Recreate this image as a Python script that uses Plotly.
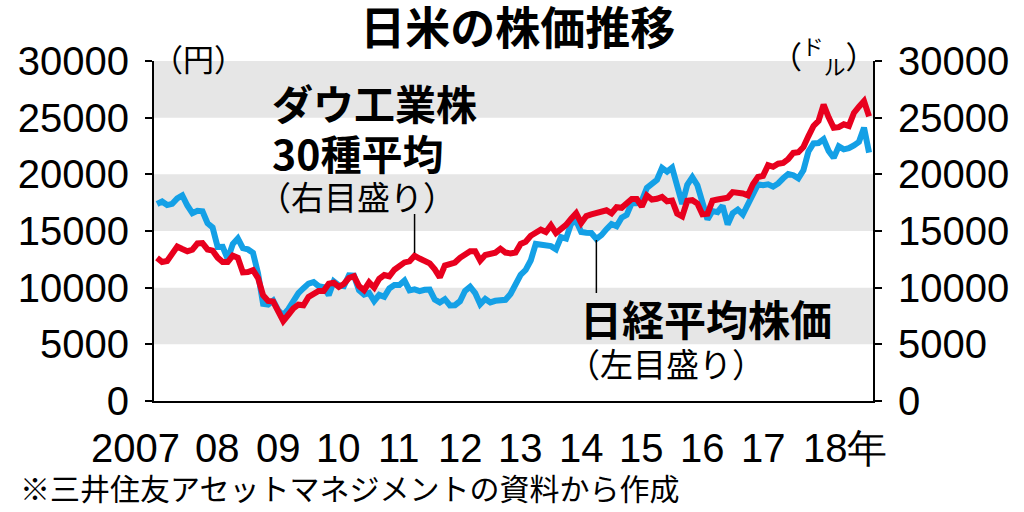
import plotly.graph_objects as go

# ---------------- data (monthly closes, Jan 2007 - Oct 2018) ----------------
start_year = 2007
nikkei = [
    17383, 17604, 17288, 17400, 17875, 18138, 17248, 16569, 16785, 16737, 15680, 15307,  # 2007
    13592, 13603, 12525, 13849, 14338, 13481, 13376, 13072, 11259, 8576, 8512, 8859,     # 2008
    7994, 7568, 8109, 8828, 9522, 9958, 10356, 10492, 10133, 10034, 9345, 10546,         # 2009
    10198, 10126, 11089, 11057, 9768, 9382, 9537, 8824, 9369, 9202, 9937, 10228,         # 2010
    10237, 10624, 9755, 9849, 9693, 9816, 9833, 8955, 8700, 8988, 8434, 8455,            # 2011
    8802, 9723, 10083, 9520, 8542, 9006, 8695, 8839, 8870, 8928, 9446, 10395,            # 2012
    11138, 11559, 12397, 13860, 13774, 13677, 13668, 13389, 14455, 14327, 15662, 15900,  # 2013
    14914, 14841, 14828, 14304, 14632, 15162, 15621, 15425, 16174, 16414, 17459, 17451,  # 2014
    17674, 18798, 19207, 19520, 20563, 20236, 20585, 18890, 17388, 19083, 19747, 19034,  # 2015
    17518, 16027, 16759, 16666, 17235, 15576, 16569, 16887, 16450, 17425, 18308, 19114,  # 2016
    19041, 19119, 18909, 19197, 19651, 20033, 19925, 19646, 20356, 22012, 22725, 22765,  # 2017
    23098, 22068, 21454, 22468, 22202, 22305, 22554, 22865, 24120, 21920,                # 2018
]
dow = [
    12622, 12269, 12354, 13063, 13628, 13409, 13212, 13358, 13896, 13930, 13372, 13265,  # 2007
    12650, 12266, 12263, 12820, 12638, 11350, 11378, 11544, 10851, 9325, 8829, 8776,     # 2008
    8001, 7063, 7609, 8168, 8500, 8447, 9172, 9496, 9712, 9713, 10345, 10428,            # 2009
    10067, 10325, 10857, 11009, 10137, 9774, 10466, 10015, 10788, 11118, 11006, 11578,   # 2010
    11892, 12226, 12320, 12811, 12570, 12414, 12143, 11614, 10913, 11955, 12046, 12218,  # 2011
    12633, 12952, 13212, 13214, 12393, 12880, 13009, 13091, 13437, 13096, 13026, 13104,  # 2012
    13861, 14054, 14579, 14840, 15116, 14910, 15500, 14810, 15130, 15546, 16086, 16577,  # 2013
    15699, 16322, 16458, 16581, 16717, 16827, 16563, 17098, 17043, 17391, 17828, 17823,  # 2014
    17165, 18133, 17776, 17841, 18011, 17620, 17690, 16528, 16285, 17664, 17720, 17425,  # 2015
    16466, 16517, 17685, 17774, 17787, 17930, 18432, 18401, 18308, 18142, 19124, 19763,  # 2016
    19864, 20812, 20663, 20941, 21009, 21350, 21891, 21948, 22405, 23377, 24272, 24719,  # 2017
    26149, 25029, 24103, 24163, 24416, 24271, 25415, 25965, 26458, 25116,                # 2018
]
year_ticks = [2007, 2008, 2009, 2010, 2011, 2012, 2013, 2014, 2015, 2016, 2017, 2018]
year_labels = ["2007", "08", "09", "10", "11", "12", "13", "14", "15", "16", "17", "18年"]
y_ticks = [0, 5000, 10000, 15000, 20000, 25000, 30000]
y_tick_labels = ["0", "5000", "10000", "15000", "20000", "25000", "30000"]
band_ranges = [(5000, 10000), (15000, 20000), (25000, 30000)]

months = [start_year + i / 12 for i in range(len(nikkei))]

# ---------------- layout geometry ----------------
W, H = 1024, 512
L, R, T, B = 154, 151, 61, 111
PW, PH = W - L - R, H - T - B


def px(xp):
    return (xp - L) / PW


def py(yp):
    return (H - B - yp) / PH


BLUE = "#14A0E6"
RED = "#E8001E"
NUM_FONT = "Liberation Sans, Arial, sans-serif"
JP_FONT = "Noto Sans CJK JP, sans-serif"

fig = go.Figure()

fig.add_trace(go.Scatter(x=months, y=nikkei, mode="lines", yaxis="y",
                         line=dict(color=BLUE, width=6), name="日経平均株価",
                         showlegend=False))
fig.add_trace(go.Scatter(x=months, y=dow, mode="lines", yaxis="y2",
                         line=dict(color=RED, width=6), name="ダウ工業株30種平均",
                         showlegend=False))
# year dots below the axis
fig.add_trace(go.Scatter(x=year_ticks, y=[-1440] * len(year_ticks), mode="markers",
                         yaxis="y", marker=dict(color="black", size=11),
                         cliponaxis=False, showlegend=False, hoverinfo="skip"))

shapes = []
for lo, hi in band_ranges:
    shapes.append(dict(type="rect", xref="paper", x0=0, x1=1, yref="y", y0=lo, y1=hi,
                       fillcolor="#E6E6E6", line=dict(width=0), layer="below"))
# leader lines
shapes.append(dict(type="line", xref="x", yref="paper", x0=2011.25, x1=2011.25,
                   y0=py(253), y1=py(214), line=dict(color="black", width=1.5)))
shapes.append(dict(type="line", xref="x", yref="paper", x0=2014.25, x1=2014.25,
                   y0=py(240), y1=py(293), line=dict(color="black", width=1.5)))

annotations = []
for yr, lab in zip(year_ticks, year_labels):
    if lab == "2007":
        annotations.append(dict(x=px(182), xref="paper", xanchor="right",
                                y=py(448), yref="paper", yanchor="middle",
                                text=lab, showarrow=False,
                                font=dict(family=NUM_FONT, size=40, color="black")))
    elif lab.endswith("年"):
        annotations.append(dict(x=px(801), xref="paper", xanchor="left",
                                y=py(448), yref="paper", yanchor="middle",
                                text=lab, showarrow=False,
                                font=dict(family=NUM_FONT, size=40, color="black")))
    else:
        annotations.append(dict(x=yr, xref="x", xanchor="center",
                                y=py(448), yref="paper", yanchor="middle",
                                text=lab, showarrow=False,
                                font=dict(family=NUM_FONT, size=40, color="black")))


def jp(text, xl, yc, size, bold=False, anchor="left"):
    annotations.append(dict(x=px(xl), xref="paper", xanchor=anchor,
                            y=py(yc), yref="paper", yanchor="middle",
                            text=f"<b>{text}</b>" if bold else text, showarrow=False,
                            font=dict(family=JP_FONT, size=size, color="black")))


jp("ダウ工業株", 270, 102, 41, bold=True)
jp("30種平均", 270, 152, 41, bold=True)
jp("（右目盛り）", 256, 196, 33)
jp("日経平均株価", 578, 317, 42, bold=True)
jp("（左目盛り）", 565, 363, 33)
jp("（円）", 198, 57, 31, anchor="center")
jp("（<sup>ド</sup><sub>ル</sub>）", 823, 55, 31, anchor="center")
jp("※三井住友アセットマネジメントの資料から作成", 18, 487, 30)

axis_common = dict(range=[0, 30000], tickvals=y_ticks, ticktext=y_tick_labels,
                   ticks="outside", ticklen=7,
                   tickwidth=2, tickcolor="black", showline=True, linecolor="black",
                   linewidth=2, showgrid=False, zeroline=False,
                   tickfont=dict(family=NUM_FONT, size=40, color="black"),
                   ticklabelstandoff=8, fixedrange=True, automargin=False)

fig.update_layout(
    width=W, height=H,
    margin=dict(l=L, r=R, t=T, b=B, pad=0, autoexpand=False),
    paper_bgcolor="white", plot_bgcolor="white",
    title=dict(text="<b>日米の株価推移</b>", x=0.506, xref="paper", xanchor="center",
               y=1 - 29 / H, yref="container", yanchor="middle", automargin=False,
               font=dict(family=JP_FONT, size=45, color="black")),
    xaxis=dict(range=[2006.95, 2018.815], showline=True, linecolor="black", linewidth=2,
               showgrid=False, zeroline=False, showticklabels=False, ticks="",
               automargin=False, fixedrange=True),
    yaxis=dict(side="left", **axis_common),
    yaxis2=dict(side="right", overlaying="y", **axis_common),
    shapes=shapes,
    annotations=annotations,
    showlegend=False,
)

fig.write_html("out.html", config={"displayModeBar": False},
               post_script="document.body.style.margin='0';document.body.style.overflow='hidden';")
